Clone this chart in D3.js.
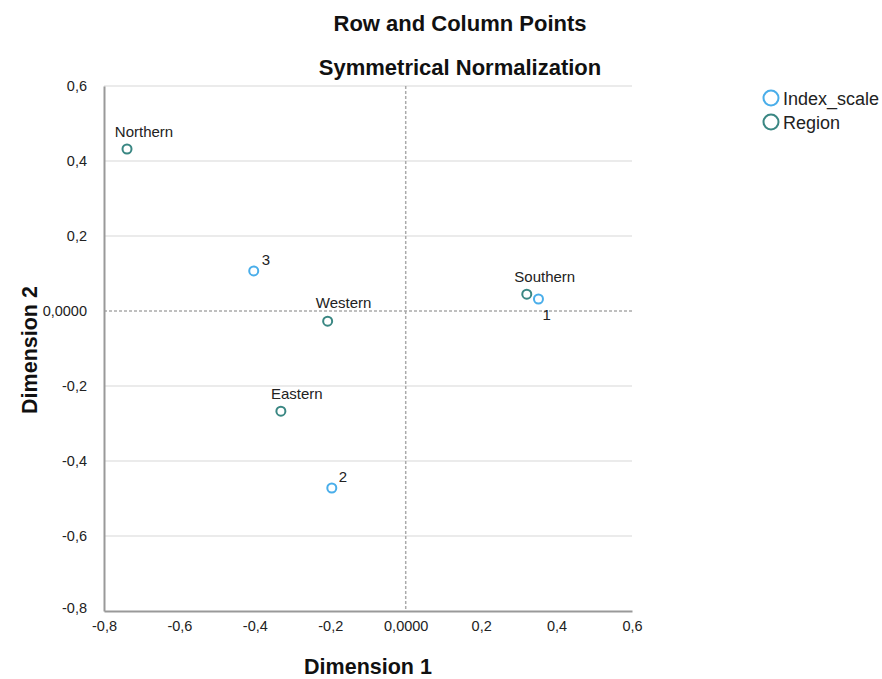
<!DOCTYPE html>
<html>
<head>
<meta charset="utf-8">
<script src="https://cdn.jsdelivr.net/npm/d3@7"></script>
<style>
  body { margin: 0; background: #fff; }
  text { font-family: "Liberation Sans", Arial, sans-serif; }
</style>
</head>
<body>
<div id="chart"></div>
<script>
// Index_scale (column points)
const indexLabels = ["1", "2", "3"];
const indexDim1 = [0.352, -0.196, -0.403];
const indexDim2 = [0.032, -0.472, 0.107];

// Region (row points)
const regionLabels = ["Northern", "Southern", "Eastern", "Western"];
const regionDim1 = [-0.739, 0.321, -0.331, -0.207];
const regionDim2 = [0.432, 0.045, -0.267, -0.027];

const xTicks = [-0.8, -0.6, -0.4, -0.2, 0, 0.2, 0.4, 0.6];
const yTicks = [-0.8, -0.6, -0.4, -0.2, 0, 0.2, 0.4, 0.6];

const width = 882, height = 679;
const colIndex = "#4aaeea";
const colRegion = "#3a8783";

const svg = d3.select("#chart").append("svg")
    .attr("width", width)
    .attr("height", height);

const x = d3.scaleLinear().domain([-0.8, 0.6]).range([104, 632]);
const y = d3.scaleLinear().domain([-0.8, 0.6]).range([611, 86]);

const fmt = d => d === 0 ? "0,0000" : d3.format(".1f")(d).replace(".", ",").replace("−", "-");

// horizontal gridlines
svg.append("g")
    .selectAll("line")
    .data(yTicks.filter(d => d !== 0 && d !== -0.8))
    .enter()
    .append("line")
    .attr("x1", x(-0.8)).attr("x2", x(0.6))
    .attr("y1", d => y(d)).attr("y2", d => y(d))
    .attr("stroke", "#e4e4e4")
    .attr("stroke-width", 1.5);

// reference lines at zero
svg.append("line")
    .attr("x1", x(-0.8)).attr("x2", x(0.6))
    .attr("y1", y(0)).attr("y2", y(0))
    .attr("stroke", "#aaaaaa").attr("stroke-dasharray", "3,2").attr("stroke-width", 1.5);
svg.append("line")
    .attr("x1", x(0)).attr("x2", x(0))
    .attr("y1", y(0.6)).attr("y2", y(-0.8))
    .attr("stroke", "#aaaaaa").attr("stroke-dasharray", "3,2").attr("stroke-width", 1.5);

// axes
const xAxis = svg.append("g")
    .attr("transform", `translate(0,${y(-0.8)})`)
    .call(d3.axisBottom(x).tickValues(xTicks).tickFormat(fmt).tickSize(0).tickPadding(13));
const yAxis = svg.append("g")
    .attr("transform", `translate(${x(-0.8)},0)`)
    .call(d3.axisLeft(y).tickValues(yTicks).tickFormat(fmt).tickSize(0).tickPadding(17));

[xAxis, yAxis].forEach(a => {
    a.select(".domain").attr("stroke", "#999").attr("stroke-width", 2);
    a.selectAll("text").attr("font-size", 14.5).attr("fill", "#222")
        .attr("font-family", "Liberation Sans, Arial, sans-serif");
});
xAxis.selectAll("text").attr("dy", "0.5em");
yAxis.selectAll(".tick text").filter(d => d === -0.8).attr("dy", "0.1em");

// points
function drawSeries(labels, d1, d2, color, offsets) {
    const g = svg.append("g");
    g.selectAll("circle")
        .data(labels)
        .enter()
        .append("circle")
        .attr("cx", (_, i) => x(d1[i]))
        .attr("cy", (_, i) => y(d2[i]))
        .attr("r", 4.5)
        .attr("fill", "#fff")
        .attr("stroke", color)
        .attr("stroke-width", 2);
    g.selectAll("text")
        .data(labels)
        .enter()
        .append("text")
        .attr("x", (_, i) => x(d1[i]) + offsets[i][0])
        .attr("y", (_, i) => y(d2[i]) + offsets[i][1])
        .attr("text-anchor", (_, i) => offsets[i][2] || "middle")
        .attr("font-size", 15)
        .attr("fill", "#222")
        .text(d => d);
}

drawSeries(regionLabels, regionDim1, regionDim2, colRegion,
    [[17, -12], [18, -12], [16, -12], [16, -13]]);
drawSeries(indexLabels, indexDim1, indexDim2, colIndex,
    [[4, 21, "start"], [7, -6, "start"], [8, -6, "start"]]);

// titles
svg.append("text").attr("x", 460).attr("y", 31)
    .attr("text-anchor", "middle").attr("font-size", 22).attr("font-weight", "bold")
    .attr("fill", "#111").text("Row and Column Points");
svg.append("text").attr("x", 460).attr("y", 75)
    .attr("text-anchor", "middle").attr("font-size", 22).attr("font-weight", "bold")
    .attr("fill", "#111").text("Symmetrical Normalization");

svg.append("text").attr("x", 368).attr("y", 674)
    .attr("text-anchor", "middle").attr("font-size", 21.5).attr("font-weight", "bold")
    .attr("fill", "#111").text("Dimension 1");
svg.append("text")
    .attr("transform", "translate(37,350) rotate(-90)")
    .attr("text-anchor", "middle").attr("font-size", 21.5).attr("font-weight", "bold")
    .attr("fill", "#111").text("Dimension 2");

// legend
const legendItems = [["Index_scale", colIndex], ["Region", colRegion]];
const lg = svg.append("g").attr("transform", "translate(771,98)");
legendItems.forEach((item, i) => {
    lg.append("circle").attr("cx", 0).attr("cy", i * 24).attr("r", 7.5)
        .attr("fill", "#fff").attr("stroke", item[1]).attr("stroke-width", 2);
    lg.append("text").attr("x", 12).attr("y", i * 24 + 6.5)
        .attr("font-size", 18).attr("fill", "#222").text(item[0]);
});
</script>
</body>
</html>
